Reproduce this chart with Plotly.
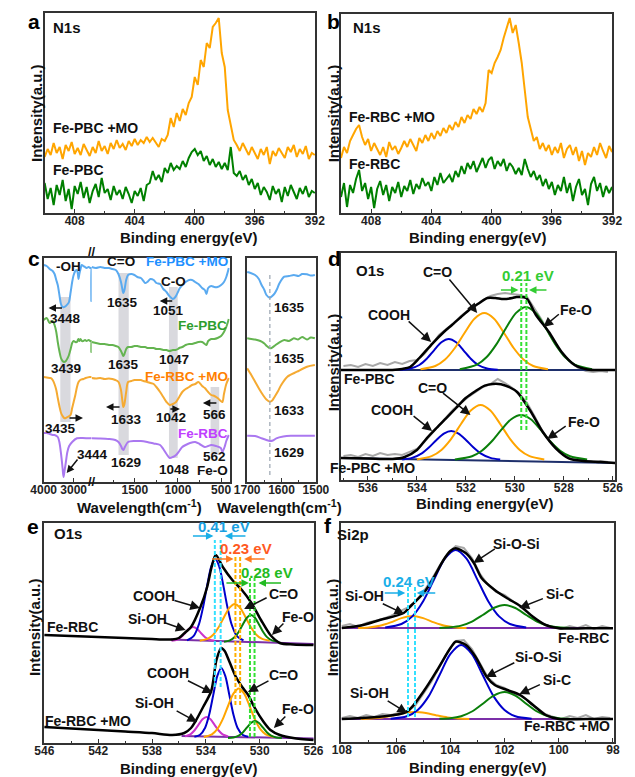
import numpy as np
import plotly.graph_objects as go

W, H = 635, 777
FONT = "Arial, Liberation Sans, Helvetica, sans-serif"

# ============================ DATA ============================
# (a)/(b) N1s XPS: binding-energy grid (eV) and intensities (a.u.)
n1s_energy = np.linspace(410.0, 392.0, 91)
n1s_fe_pbc_mo = [56, 64, 58, 70, 60, 66, 54, 68, 62, 71, 59, 65, 58, 69, 63, 57, 66, 60, 72, 62,
                 67, 59, 70, 64, 73, 65, 69, 63, 72, 67, 74, 68, 73, 70, 76, 71, 75, 70, 66, 74,
                 72, 78, 95, 86, 100, 92, 104, 98, 110, 116, 136, 128, 153, 146, 170, 165, 186, 190, 195, 160,
                 146, 103, 88, 73, 68, 62, 70, 64, 58, 66, 60, 54, 64, 58, 66, 49, 62, 57, 65, 60,
                 55, 66, 61, 68, 56, 64, 59, 67, 54, 60, 58]
n1s_fe_pbc = [30, 14, 25, 8, 28, 18, 33, 12, 24, 4, 27, 19, 31, 15, 26, 10, 22, 29, 16, 35,
              20, 24, 13, 27, 18, 23, 14, 26, 19, 10, 22, 17, 25, 12, 28, 30, 42, 33, 38, 31,
              45, 40, 50, 43, 47, 44, 52, 46, 55, 61, 64, 58, 62, 52, 57, 48, 54, 46, 51, 44,
              50, 43, 66, 40, 37, 42, 33, 38, 28, 34, 24, 30, 18, 26, 21, 13, 27, 19, 24, 11,
              26, 17, 28, 20, 14, 25, 19, 27, 16, 22, 20]
n1s_fe_rbc_mo = [55, 66, 60, 72, 78, 84, 88, 76, 68, 74, 62, 70, 64, 58, 66, 56, 71, 63, 67, 59,
                 65, 72, 66, 74, 68, 62, 75, 70, 78, 72, 80, 74, 82, 77, 85, 80, 88, 83, 91, 86,
                 96, 90, 98, 94, 104, 99, 106, 101, 110, 143, 140, 150, 156, 163, 175, 186, 195, 180, 188, 170,
                 150, 123, 96, 84, 72, 76, 64, 70, 62, 68, 58, 66, 60, 70, 55, 64, 68, 58, 66, 52,
                 62, 48, 60, 56, 66, 58, 70, 62, 55, 67, 61]
n1s_fe_rbc = [16, 30, 6, 28, 20, 34, 43, 22, 30, 14, 26, 5, 24, 32, 18, 28, 12, 26, 20, 31,
              16, 27, 22, 33, 19, 29, 24, 35, 27, 31, 22, 36, 28, 40, 30, 34, 38, 31, 42, 36,
              47, 39, 50, 44, 52, 41, 49, 55, 45, 53, 56, 44, 52, 47, 54, 42, 50, 46, 39, 45,
              38, 54, 44, 36, 42, 33, 38, 27, 34, 24, 31, 18, 28, 22, 36, 20, 30, 12, 26, 34,
              18, 24, 8, 29, 36, 22, 30, 16, 27, 20, 26]
n1s_ticks = [408, 404, 400, 396, 392]

# (c) FTIR, high-wavenumber segment (4000-2400 cm-1)
ftir_hi_w = [4000, 3900, 3800, 3700, 3637, 3580, 3531, 3470, 3424, 3370, 3317, 3260, 3200, 3157, 3100,
             3050, 3000, 2944, 2890, 2860, 2837, 2810, 2770, 2730, 2680, 2620, 2570, 2500, 2440, 2416,
             2410, 2404, 2400]
ftir_hi_pbc_mo = [217, 216, 213, 211, 208, 202, 197, 186, 178, 175, 175, 176, 178, 180, 190, 200, 207, 211,
                  212, 208, 203, 208, 213, 217, 216, 215, 214, 215, 214, 214, 181, 214, 214]
ftir_hi_pbc = [162, 164, 159, 161, 157, 150, 140, 130, 124, 121, 120, 121, 124, 127, 133, 139, 141, 140,
               140, 142, 143, 141, 143, 141, 141, 142, 141, 142, 141, 141, 130, 141, 141]
ftir_hi_w_rbc_mo = [4000, 3900, 3800, 3744, 3700, 3640, 3580, 3530, 3470, 3420, 3370, 3317, 3260, 3200,
                    3104, 3050, 3000, 2944, 2890, 2837, 2780, 2677, 2600, 2464, 2400]
ftir_hi_rbc_mo = [105, 104.5, 104, 103.7, 102, 98, 92, 84, 75, 69, 66, 64, 64, 65, 67, 74, 80, 87, 95,
                  100, 102, 103, 104, 105, 105]
ftir_hi_w_rbc = [4000, 3900, 3800, 3700, 3637, 3531, 3477, 3420, 3370, 3339, 3300, 3260, 3210, 3150,
                 3050, 2890, 2700, 2464, 2400]
ftir_hi_rbc = [49, 49, 48, 47, 47, 45, 40, 28, 14, 5, 12, 20, 30, 36, 40, 43.7, 44, 43.7, 44]

# (c) FTIR, low-wavenumber segment (2000-400 cm-1)
ftir_lo_w = [2000, 1950, 1900, 1850, 1800, 1760, 1720, 1690, 1660, 1640, 1633, 1620, 1600, 1578, 1540,
             1504, 1470, 1430, 1400, 1380, 1356, 1320, 1281, 1250, 1207, 1170, 1133, 1100, 1059, 1030,
             1000, 985, 950, 911, 870, 837, 800, 763, 720, 689, 670, 650, 615, 580, 541, 500, 467, 440, 411]
ftir_lo_pbc_mo = [215, 214, 215, 214, 214, 213, 212, 208, 200, 191, 189, 192, 202, 207, 208, 207, 205, 204,
                  201, 199, 200, 203, 202, 199, 198, 193, 190, 186, 183, 185, 190, 193, 197, 200, 202, 202,
                  200, 198, 194, 192, 188, 194, 196, 195, 195, 197, 200, 205, 214]
ftir_lo_pbc = [140, 139, 138, 138, 137, 137, 136, 135, 131, 127, 126, 128, 133, 135, 135, 136, 136, 135,
               135, 135, 134, 134, 134, 133, 133, 132, 132, 131, 132, 132, 133, 134, 135, 137, 138, 138,
               139, 140, 140, 138, 137, 141, 143, 143, 144, 146, 150, 155, 163]
ftir_lo_w_rbc_mo = [2000, 1950, 1900, 1850, 1800, 1760, 1726, 1689, 1660, 1645, 1633, 1620, 1600, 1578,
                    1540, 1504, 1470, 1430, 1400, 1356, 1320, 1281, 1250, 1207, 1170, 1133, 1096, 1059,
                    1022, 985, 950, 911, 870, 837, 800, 763, 720, 689, 650, 615, 578, 541, 504, 485, 467, 440, 411]
ftir_lo_rbc_mo = [104, 103.5, 104, 103, 103.5, 103, 102, 100, 92, 82, 75, 78, 90, 100, 101, 102, 102, 102,
                  101, 100, 99, 98, 95, 90, 85, 80, 77, 78, 80, 85, 90, 93, 95, 97, 98, 100, 96, 94, 90,
                  87, 86, 84, 81, 80, 88, 98, 104]
ftir_lo_w_rbc = [2000, 1900, 1800, 1726, 1689, 1660, 1645, 1633, 1615, 1578, 1500, 1430, 1356, 1281, 1207,
                 1170, 1133, 1096, 1059, 1022, 985, 950, 911, 860, 800, 750, 689, 650, 615, 560, 504, 485,
                 460, 440, 411]
ftir_lo_rbc = [43.7, 43.5, 43, 42, 40, 36, 33, 32, 35, 40, 41, 41, 40, 38.5, 37, 33, 28, 24, 25, 27, 31,
               35, 37, 39, 40, 38, 35, 36, 37, 36, 34, 30, 35, 41, 47]
# shaded bands: (left edge, right edge, bottom, top), segment
band_w0 = [3446, 1689, 1104, 622]
band_w1 = [3104, 1570, 1003, 522]
band_b = [60, 27, 24, 27]
band_t = [185, 209, 195, 95]
band_seg = ['hi', 'lo', 'lo', 'lo']

# (c) zoom 1700-1500 cm-1
zc_w_pbc_mo = [1700, 1690, 1677, 1666, 1658, 1650, 1644, 1634, 1627, 1620, 1613, 1606, 1592, 1578, 1564,
               1550, 1540, 1526, 1515, 1503]
zc_pbc_mo = [210, 209, 207, 203, 197, 192, 187, 184.3, 186, 188.7, 193, 198.7, 205.3, 206, 207, 206, 208,
             207.7, 206.5, 207]
zc_w_pbc = [1700, 1688, 1677, 1666, 1658, 1650, 1644, 1634, 1627, 1620, 1606, 1592, 1578, 1564, 1552, 1540,
            1526, 1515, 1503]
zc_pbc = [143.7, 143, 142.5, 141.5, 140.3, 138.5, 136.3, 133.7, 134.5, 136.3, 139.7, 142, 141, 143.7, 142.5,
          145, 142.5, 144.5, 143.7]
zc_w_rbc_mo = [1700, 1688, 1677, 1665, 1654, 1644, 1634, 1627, 1620, 1610, 1601, 1583, 1555, 1526, 1503]
zc_rbc_mo = [113.7, 107, 100.3, 93, 87, 82.5, 80.3, 81.5, 85.3, 91, 97, 105.3, 110.3, 115.3, 117]
zc_w_rbc = [1700, 1677, 1658, 1644, 1634, 1625, 1615, 1595, 1573, 1540, 1503]
zc_rbc = [46.3, 46, 43.7, 42, 41, 41.5, 43.7, 45.5, 46.3, 46.3, 46.3]
zc_mark = 1634

# (d) O1s Fe-PBC (upper) and Fe-PBC +MO (lower)
d_raw_E = np.linspace(537.0, 526.2, 37)
d_raw_up = [114, 115, 113, 116, 114, 117, 115, 118, 116, 119, 120, 126, 135, 145, 151, 157, 164, 170, 175,
            180, 184, 186, 187, 186, 185, 183, 172, 160, 146, 134, 124, 117, 112, 109, 108, 109, 108]
d_raw_lo = [24, 25, 23, 26, 24, 27, 25, 26, 25, 28, 31, 38, 46, 55, 63, 71, 77, 83, 88, 93, 96, 101, 97,
            92, 86, 77, 64, 50, 40, 31, 25, 21, 20, 19, 18, 19, 18]
d_env_up_E = [537.1, 536, 535, 534.6, 534.28, 533.9, 533.36, 532.9, 532.57, 532.2, 531.78, 531.45, 531.12,
              530.8, 530.46, 530.1, 529.93, 529.54, 529.14, 528.61, 528.09, 527.56, 527.03, 526.5, 525.9]
d_env_up = [110, 110, 110, 111, 113, 122, 136.7, 148, 155, 163, 171.7, 177, 182, 182, 181, 182, 183, 182,
            165, 148, 128, 115, 110.5, 110, 110]
d_env_lo_E = [537.1, 536, 535, 534.5, 534.0, 533.6, 533.2, 532.81, 532.4, 532.02, 531.6, 531.23, 530.9,
              530.57, 530.2, 529.91, 529.39, 528.86, 528.33, 527.8, 527.2, 526.5, 525.9]
d_env_lo = [22, 21.5, 21, 23, 30, 41.7, 52, 61.7, 72, 81.7, 89, 94.3, 96, 95.7, 92.5, 88, 70, 48, 31.7,
            21.7, 19, 18, 17]
d_cooh_up_E = [534.7, 534.3, 533.9, 533.6, 533.3, 533.0, 532.7, 532.4, 532.1, 531.8, 531.5, 531.1, 530.7]
d_cooh_up = [110.2, 111.2, 115, 121.2, 129.7, 137.7, 141, 137.7, 129.7, 121.2, 115, 111.2, 110.2]
d_co_up_E = [533.85, 533.25, 532.85, 532.45, 532.05, 531.65, 531.25, 530.85, 530.45, 530.05, 529.65, 529.25, 528.65]
d_co_up = [110.7, 114, 120.5, 132, 147.3, 161.3, 167, 161.3, 147.3, 132, 120.5, 114, 110.7]
d_feo_up_E = [532.25, 531.55, 531.15, 530.75, 530.35, 529.95, 529.55, 529.15, 528.75, 528.35, 527.95, 527.55, 526.85]
d_feo_up = [110.7, 115.4, 123, 135.9, 152.5, 167.1, 173, 167.1, 152.5, 135.9, 123, 115.4, 110.7]
d_cooh_lo_E = [534.6, 534.2, 533.8, 533.5, 533.2, 532.9, 532.6, 532.3, 532.0, 531.7, 531.4, 531.0, 530.6]
d_cooh_lo = [20.5, 22.1, 26.7, 32.7, 40.1, 46.4, 49, 46.4, 40.1, 32.7, 26.7, 22.1, 20.5]
d_co_lo_E = [534.0, 533.4, 533.0, 532.6, 532.2, 531.8, 531.4, 531.0, 530.6, 530.2, 529.8, 529.4, 528.8]
d_co_lo = [20.6, 23.9, 30.1, 41.2, 56, 69.5, 75, 69.5, 56, 41.2, 30.1, 23.9, 20.6]
d_feo_lo_E = [532.45, 531.75, 531.35, 530.95, 530.55, 530.15, 529.75, 529.35, 528.95, 528.55, 528.15, 527.75, 527.05]
d_feo_lo = [20.5, 23.8, 29.3, 38.5, 50.3, 60.8, 65, 60.8, 50.3, 38.5, 29.3, 23.8, 20.5]
d_base_E = [537.1, 525.9]
d_base_up = [110, 110]
d_base_lo = [22, 17]
d_shift_E = [529.74, 529.53]

# (e) O1s Fe-RBC (upper) and Fe-RBC +MO (lower)
e_env_up_E = [546, 544, 542, 540, 538, 537, 536.5, 536, 535.5, 535.1, 534.4, 533.9, 533.57, 533.26, 532.74,
              532.03, 531.32, 530.61, 529.9, 529.2, 528.5, 527.5, 526]
e_env_up = [108, 107, 106, 105, 104, 103.5, 103.5, 105, 111, 116, 136, 156, 176, 188, 176, 163, 153, 140,
            123, 108, 100, 98.5, 98]
e_env_lo_E = [546, 544, 542, 540, 538, 536.5, 535.6, 535.1, 534.8, 534.2, 533.6, 533.21, 532.86, 532.6,
              532.27, 531.8, 531.3, 530.85, 530.4, 529.7, 529.2, 528.5, 527.5, 526]
e_env_lo = [16, 14.5, 13, 11.5, 10, 8, 10, 15, 21, 36, 52, 83, 95, 92, 82, 67, 56, 48, 36, 21, 13, 8, 5, 3]
e_sioh_up_E = [536.55, 536.15, 535.85, 535.55, 535.25, 534.95, 534.65, 534.35, 534.05, 533.75, 533.35]
e_sioh_up = [102.2, 103.3, 105.7, 109.7, 114.1, 116, 114.1, 109.7, 105.7, 103.3, 102.2]
e_cooh_up_E = [535.4, 534.9, 534.5, 534.2, 533.9, 533.6, 533.3, 533.0, 532.7, 532.4, 532.1, 531.7, 531.2]
e_cooh_up = [102.7, 107.2, 119.3, 136.2, 157.6, 176.4, 184, 176.4, 157.6, 136.2, 119.3, 107.2, 102.7]
e_co_up_E = [534.45, 533.85, 533.45, 533.05, 532.65, 532.25, 531.85, 531.45, 531.05, 530.65, 530.25, 529.85, 529.25]
e_co_up = [102.3, 104.3, 108.3, 115.7, 125.8, 135.1, 139, 135.1, 125.8, 115.7, 108.3, 104.3, 102.3]
e_feo_up_E = [532.65, 532.25, 531.85, 531.55, 531.25, 530.95, 530.65, 530.35, 530.05, 529.75, 529.45, 529.05, 528.65]
e_feo_up = [101.2, 102.3, 105.9, 111.3, 118.6, 125.3, 128, 125.3, 118.6, 111.3, 105.9, 102.3, 101.2]
e_sioh_lo_E = [535.55, 535.15, 534.85, 534.55, 534.25, 533.95, 533.65, 533.35, 533.05, 532.75, 532.35]
e_sioh_lo = [6.6, 8.7, 12.5, 18.1, 23.7, 26, 23.7, 18.1, 12.5, 8.7, 6.6]
e_cooh_lo_E = [534.85, 534.45, 534.05, 533.75, 533.45, 533.15, 532.85, 532.55, 532.25, 531.95, 531.65, 531.25, 530.85]
e_cooh_lo = [6.3, 8.0, 15.3, 28.4, 47.9, 66.9, 75, 66.9, 47.9, 28.4, 15.3, 8.0, 6.3]
e_co_lo_E = [534.15, 533.55, 533.15, 532.75, 532.35, 531.95, 531.55, 531.15, 530.75, 530.35, 529.95, 529.55, 528.95]
e_co_lo = [6.0, 8.6, 13.8, 23.6, 37, 49.4, 54.5, 49.4, 37, 23.6, 13.8, 8.6, 6.0]
e_feo_lo_E = [532.35, 531.95, 531.55, 531.25, 530.95, 530.65, 530.35, 530.05, 529.75, 529.45, 529.15, 528.75, 528.35]
e_feo_lo = [5.1, 5.5, 7.3, 10.5, 15.3, 20, 22, 20, 15.3, 10.5, 7.3, 5.5, 5.1]
e_base_up_E = [536.6, 526]
e_base_up = [103.5, 99]
e_base_lo_E = [535.8, 526]
e_base_lo = [7, 4.5]
e_shift_cooh_E = [533.33, 532.90]
e_shift_co_E = [531.80, 531.45]
e_shift_feo_E = [530.72, 530.38]

# (f) Si2p Fe-RBC (upper) and Fe-RBC +MO (lower)
f_raw_E = np.linspace(108.0, 98.1, 34)
f_raw_up = [116, 118, 115, 119, 121, 123, 126, 130, 134, 140, 150, 162, 176, 188, 196, 194, 184, 168, 157,
            150, 147, 141, 135, 128, 122, 117, 115, 113, 116, 114, 117, 113, 116, 114]
f_raw_lo = [24, 26, 24, 27, 25, 28, 27, 29, 31, 36, 48, 60, 75, 90, 101, 102, 93, 78, 64, 57, 54, 49, 46,
            41, 34, 28, 25, 23, 26, 24, 27, 23, 25, 24]
f_env_up_E = [108, 107.3, 106.6, 105.72, 105.42, 104.95, 104.6, 104.25, 104.0, 103.8, 103.42, 103.13, 102.84,
              102.36, 101.9, 101.42, 100.95, 100.48, 100.0, 99, 98]
f_env_up = [114, 116.5, 122, 129, 137, 150, 165, 182, 191, 193.7, 188.7, 179, 163.7, 152, 143.7, 136, 125.3,
            117, 113.7, 113.7, 113.7]
f_env_lo_E = [108, 107.3, 106.6, 105.6, 104.95, 104.48, 104.0, 103.8, 103.42, 103.07, 102.66, 102.36, 101.9,
              101.42, 100.95, 100.48, 100.0, 99, 98]
f_env_lo = [23, 24, 25.3, 30.3, 52, 72, 93.7, 100.3, 97, 85.3, 65.3, 57, 52, 47, 37, 27, 23, 23, 23]
f_siosi_up_E = [106.4, 105.8, 105.4, 105.0, 104.6, 104.2, 103.8, 103.4, 103.0, 102.6, 102.2, 101.8, 101.2]
f_siosi_up = [114.5, 118, 125.6, 140.8, 162.4, 183.3, 192, 183.3, 162.4, 140.8, 125.6, 118, 114.5]
f_sioh_up_E = [107.4, 107.0, 106.6, 106.2, 105.8, 105.4, 105.0, 104.6, 104.2, 103.8, 103.4]
f_sioh_up = [114.1, 114.6, 116.2, 119.6, 123.9, 126, 123.9, 119.6, 116.2, 114.6, 114.1]
f_sic_up_E = [104.4, 104.0, 103.6, 103.2, 102.8, 102.4, 102.0, 101.6, 101.2, 100.8, 100.4, 100.0, 99.6]
f_sic_up = [114.1, 114.7, 116.4, 120.4, 127, 134, 137, 134, 127, 120.4, 116.4, 114.7, 114.1]
f_siosi_lo_E = [106.2, 105.6, 105.2, 104.8, 104.4, 104.0, 103.6, 103.2, 102.8, 102.4, 102.0, 101.6, 101.0]
f_siosi_lo = [23.3, 25.7, 32, 45.6, 66.7, 87.9, 97, 87.9, 66.7, 45.6, 32, 25.7, 23.3]
f_sioh_lo_E = [107.3, 106.9, 106.5, 106.1, 105.7, 105.3, 104.9, 104.5, 104.1, 103.7, 103.3]
f_sioh_lo = [23.1, 23.5, 24.6, 26.6, 28.9, 30, 28.9, 26.6, 24.6, 23.5, 23.1]
f_sic_lo_E = [104.4, 104.0, 103.6, 103.2, 102.8, 102.4, 102.0, 101.6, 101.2, 100.8, 100.4, 100.0, 99.6]
f_sic_lo = [23.2, 23.8, 25.8, 30.5, 38.3, 46.4, 50, 46.4, 38.3, 30.5, 25.8, 23.8, 23.2]
f_base_E = [108, 98]
f_base_up = [114, 114]
f_base_lo = [23, 23]
f_shift_E = [105.56, 105.30]

# ============================ STYLE ============================
LC = '#333333'
ORANGE = '#FFA500'
GREEN = '#008000'
BLUE_C = '#5AAAF0'
GREEN_C = '#64B450'
ORANGE_C = '#F5AA32'
PURPLE_C = '#AA78F0'
BLUE = '#0000CC'
DGREEN = '#0A7F0A'
GRAY = '#A8A8A8'
MAGENTA = '#CC33CC'
PURPLE = '#7B2FA8'
NAVY = '#1E2F6B'
TF = dict(family=FONT, size=12, color='#222', weight='bold')

fig = go.Figure()

# panel boxes in pixels: (x0, x1, y0, y1)
BOX = {
    1: (33, 315, 13, 213),
    2: (342, 625, 14, 213),
    3: (32, 82, 258, 482),
    4: (82, 226, 258, 482),
    5: (244, 316, 258, 482),
    6: (342, 628, 253, 480),
    7: (32, 314, 523, 743),
    8: (342, 627, 523, 742),
}
XR = {1: [410, 391.98], 2: [410, 391.98], 3: [4000, 2400], 4: [2000, 400], 5: [1700.5, 1499.5],
      6: [537.1, 525.9], 7: [546.05, 525.95], 8: [108.03, 97.95]}
XT = {1: n1s_ticks, 2: n1s_ticks, 3: [4000, 3000], 4: [1500, 1000, 500], 5: [1700, 1600, 1500],
      6: [536, 534, 532, 530, 528, 526], 7: [546, 542, 538, 534, 530, 526], 8: [108, 106, 104, 102, 100, 98]}
XM = {1: 2, 2: 2, 3: None, 4: 250, 5: 50, 6: 1, 7: 2, 8: 1}

layout_axes = {}
for i, (x0, x1, y0, y1) in BOX.items():
    xn = 'xaxis' if i == 1 else f'xaxis{i}'
    yn = 'yaxis' if i == 1 else f'yaxis{i}'
    xa = dict(domain=[x0 / W, x1 / W], range=XR[i], anchor='y' if i == 1 else f'y{i}',
              tickmode='array', tickvals=XT[i], ticktext=[str(t) for t in XT[i]],
              showline=True, linecolor=LC, linewidth=1.5, mirror=True,
              ticks='inside', ticklen=4.5, tickwidth=1.3, tickcolor=LC, ticklabelstandoff=-4,
              showgrid=False, zeroline=False, tickfont=TF, fixedrange=True)
    if XM[i]:
        xa['minor'] = dict(ticks='inside', ticklen=2.5, tickwidth=1.2, tickcolor=LC,
                           dtick=XM[i], tick0=0, showgrid=False)
    ya = dict(domain=[1 - y1 / H, 1 - y0 / H], range=[0, y1 - y0], anchor='x' if i == 1 else f'x{i}',
              showline=True, linecolor=LC, linewidth=1.5, mirror=True, ticks='',
              showticklabels=False, showgrid=False, zeroline=False, fixedrange=True)
    if i == 3:
        ya['mirror'] = False
    if i == 4:
        ya['mirror'] = False
        ya['side'] = 'right'
    layout_axes[xn] = xa
    layout_axes[yn] = ya


def ax(i):
    return ('x', 'y') if i == 1 else (f'x{i}', f'y{i}')


def line(x, y, i, color, width=2.0, shape='linear'):
    xa, ya = ax(i)
    fig.add_trace(go.Scatter(x=list(x), y=y, xaxis=xa, yaxis=ya, mode='lines',
                             line=dict(color=color, width=width, shape=shape, smoothing=0.8),
                             hoverinfo='skip', showlegend=False))


# (a) / (b)
line(n1s_energy, n1s_fe_pbc_mo, 1, ORANGE, 2)
line(n1s_energy, n1s_fe_pbc, 1, GREEN, 2)
line(n1s_energy, n1s_fe_rbc_mo, 2, ORANGE, 2)
line(n1s_energy, n1s_fe_rbc, 2, GREEN, 2)

# (c) FTIR
line(ftir_hi_w, ftir_hi_pbc_mo, 3, BLUE_C, 2, 'spline')
line(ftir_hi_w, ftir_hi_pbc, 3, GREEN_C, 2, 'spline')
line(ftir_hi_w_rbc_mo, ftir_hi_rbc_mo, 3, ORANGE_C, 2, 'spline')
line(ftir_hi_w_rbc, ftir_hi_rbc, 3, PURPLE_C, 2, 'spline')
line(ftir_lo_w, ftir_lo_pbc_mo, 4, BLUE_C, 2, 'spline')
line(ftir_lo_w, ftir_lo_pbc, 4, GREEN_C, 2, 'spline')
line(ftir_lo_w_rbc_mo, ftir_lo_rbc_mo, 4, ORANGE_C, 2, 'spline')
line(ftir_lo_w_rbc, ftir_lo_rbc, 4, PURPLE_C, 2, 'spline')
line(zc_w_pbc_mo, zc_pbc_mo, 5, BLUE_C, 2, 'spline')
line(zc_w_pbc, zc_pbc, 5, GREEN_C, 2, 'spline')
line(zc_w_rbc_mo, zc_rbc_mo, 5, ORANGE_C, 2, 'spline')
line(zc_w_rbc, zc_rbc, 5, PURPLE_C, 2, 'spline')

# (d)
line(d_raw_E, d_raw_up, 6, GRAY, 2)
line(d_raw_E, d_raw_lo, 6, GRAY, 2)
line(d_base_E, d_base_up, 6, NAVY, 2)
line(d_base_E, d_base_lo, 6, NAVY, 2)
for E_, I_, c in [(d_cooh_up_E, d_cooh_up, BLUE), (d_co_up_E, d_co_up, ORANGE), (d_feo_up_E, d_feo_up, DGREEN),
                  (d_cooh_lo_E, d_cooh_lo, BLUE), (d_co_lo_E, d_co_lo, ORANGE), (d_feo_lo_E, d_feo_lo, DGREEN)]:
    line(E_, I_, 6, c, 2, 'spline')
line(d_env_up_E, d_env_up, 6, 'black', 2.5, 'spline')
line(d_env_lo_E, d_env_lo, 6, 'black', 2.5, 'spline')

# (e)
line(e_base_up_E, e_base_up, 7, PURPLE, 2)
line(e_base_lo_E, e_base_lo, 7, PURPLE, 2)
for E_, I_, c in [(e_sioh_up_E, e_sioh_up, MAGENTA), (e_cooh_up_E, e_cooh_up, BLUE), (e_co_up_E, e_co_up, ORANGE),
                  (e_feo_up_E, e_feo_up, DGREEN), (e_sioh_lo_E, e_sioh_lo, MAGENTA), (e_cooh_lo_E, e_cooh_lo, BLUE),
                  (e_co_lo_E, e_co_lo, ORANGE), (e_feo_lo_E, e_feo_lo, DGREEN)]:
    line(E_, I_, 7, c, 2, 'spline')
line(e_env_up_E, e_env_up, 7, 'black', 2.5, 'spline')
line(e_env_lo_E, e_env_lo, 7, 'black', 2.5, 'spline')

# (f)
line(f_raw_E, f_raw_up, 8, GRAY, 2)
line(f_raw_E, f_raw_lo, 8, GRAY, 2)
line(f_base_E, f_base_up, 8, PURPLE, 2)
line(f_base_E, f_base_lo, 8, PURPLE, 2)
for E_, I_, c in [(f_sioh_up_E, f_sioh_up, ORANGE), (f_siosi_up_E, f_siosi_up, BLUE), (f_sic_up_E, f_sic_up, DGREEN),
                  (f_sioh_lo_E, f_sioh_lo, ORANGE), (f_siosi_lo_E, f_siosi_lo, BLUE), (f_sic_lo_E, f_sic_lo, DGREEN)]:
    line(E_, I_, 8, c, 2, 'spline')
line(f_env_up_E, f_env_up, 8, 'black', 2.5, 'spline')
line(f_env_lo_E, f_env_lo, 8, 'black', 2.5, 'spline')

# ============================ SHAPES ============================
shapes = []
for w0, w1, b, t, seg in zip(band_w0, band_w1, band_b, band_t, band_seg):
    i = 3 if seg == 'hi' else 4
    shapes.append(dict(type='rect', xref=f'x{i}', yref=f'y{i}', x0=w0, x1=w1, y0=b, y1=t,
                       fillcolor='rgba(170,170,182,0.45)', line=dict(width=0), layer='below'))
shapes.append(dict(type='line', xref='x5', yref='y5', x0=zc_mark, x1=zc_mark, y0=7, y1=207,
                   line=dict(color='#9aa4b0', width=1.2, dash='4px,3px')))


def vpair(Es, i, y0, y1, color):
    for E_ in Es:
        shapes.append(dict(type='line', xref=f'x{i}', yref=f'y{i}', x0=E_, x1=E_, y0=y0, y1=y1,
                           line=dict(color=color, width=2, dash='4px,2px')))


vpair(d_shift_E, 6, 50, 197, '#33E033')
vpair(e_shift_cooh_E, 7, 56, 203, '#33E0FF')
vpair(e_shift_co_E, 7, 38, 188, '#FFB000')
vpair(e_shift_feo_E, 7, 6, 165, '#33E033')
vpair(f_shift_E, 8, 25, 155, '#33E0FF')

# ============================ TEXT ============================
anns = []


def T(s, px, py, size=14, color='#111', xa='center', angle=0):
    anns.append(dict(text=s, x=px / W, y=1 - py / H, xref='paper', yref='paper', showarrow=False,
                     xanchor=xa, yanchor='middle', textangle=angle,
                     font=dict(family=FONT, size=size, color=color, weight='bold')))


def A(x0, y0, x1, y1, color='#111', width=1.5, size=1.2):
    anns.append(dict(text='', x=x1 / W, y=1 - y1 / H, xref='paper', yref='paper',
                     ax=x0 - x1, ay=y0 - y1, axref='pixel', ayref='pixel', showarrow=True,
                     arrowhead=2, arrowsize=size, arrowwidth=width, arrowcolor=color,
                     standoff=0, startstandoff=0))


# panel letters
for s, px, py in [('a', 22, 22), ('b', 334, 22), ('c', 22, 258), ('d', 335, 258), ('e', 21, 526), ('f', 328, 525)]:
    T(s, px, py, size=21, color='#000')
# axis titles
for px, py in [(24, 113), (334, 113), (334, 362), (22, 627), (333, 627)]:
    T('Intensity(a.u.)', px, py, size=15, angle=-90)
for px, py in [(183, 238), (485, 238), (492, 503), (183, 768), (485, 767)]:
    T('Binding energy(eV)', px, py, size=15)
T('Wavelength(cm<sup>-1</sup>)', 132, 506, size=15)
T('Wavelength(cm<sup>-1</sup>)', 278, 506, size=15)

# (a)/(b)
T('N1s', 56, 27, size=15)
T('Fe-PBC +MO', 40, 128, xa='left')
T('Fe-PBC', 40, 170, xa='left')
T('N1s', 369, 27, size=15)
T('Fe-RBC +MO', 348, 117, xa='left')
T('Fe-RBC', 348, 164, xa='left')

# (c)
for s, px, py, c in [('-OH', 58, 266, '#111'), ('C=O', 113, 262, '#111'), ('Fe-PBC +MO', 181, 262, '#1E90FF'),
                     ('C-O', 167, 282, '#111'), ('1635', 114, 302, '#111'), ('1051', 162, 310, '#111'),
                     ('3448', 55, 318, '#111'), ('Fe-PBC', 198, 325, '#2E9E2E'), ('3439', 55, 369, '#111'),
                     ('1635', 115, 364, '#111'), ('1047', 168, 360, '#111'), ('Fe-RBC +MO', 181, 376, '#FF7F00'),
                     ('3435', 50, 428, '#111'), ('1633', 118, 419, '#111'), ('1042', 165, 418, '#111'),
                     ('566', 210, 414, '#111'), ('Fe-RBC', 198, 433, '#BF40FF'), ('3444', 83, 454, '#111'),
                     ('1629', 118, 462, '#111'), ('1048', 168, 469, '#111'), ('562', 210, 456, '#111'),
                     ('Fe-O', 208, 470, '#111'),
                     ('1635', 288, 307, '#111'), ('1635', 288, 358, '#111'), ('1633', 288, 410, '#111'),
                     ('1629', 288, 452, '#111')]:
    T(s, px, py, size=13.5, color=c)
T('//', 82, 251, size=13)
T('//', 82, 481, size=13)
for x0, y0, x1, y1 in [(167, 301, 153, 301), (52, 308, 37, 308), (58, 418, 73, 418), (112, 407, 97, 407),
                       (163, 409, 174, 409), (213, 403, 198, 403), (68, 458, 56, 473)]:
    A(x0, y0, x1, y1, width=1.5, size=1.0)

# (d)
T('O1s', 372, 270, size=15)
T('C=O', 443, 272)
T('COOH', 392, 315)
T('Fe-O', 587, 310)
T('Fe-PBC', 372, 379)
T('C=O', 437, 388)
T('COOH', 395, 410)
T('Fe-O', 595, 422)
T('Fe-PBC +MO', 375, 468)
T('0.21 eV', 537, 276, size=15, color='#33CC33')
for x0, y0, x1, y1 in [(455, 278, 484, 313), (412, 320, 436, 342), (570, 313, 553, 327),
                       (448, 392, 477, 415), (417, 415, 437, 431), (577, 425, 557, 439)]:
    A(x0, y0, x1, y1, size=1.3, width=1.5)
A(508, 290, 527, 290, color='#33CC33', size=1.0)
A(557, 290, 538, 290, color='#33CC33', size=1.0)

# (e)
T('O1s', 57, 533, size=15)
T('COOH', 147, 596)
T('Si-OH', 140, 619)
T('Fe-RBC', 62, 627)
T('C=O', 282, 594)
T('Fe-O', 297, 617)
T('COOH', 162, 673)
T('Si-OH', 148, 703)
T('C=O', 282, 675)
T('Fe-O', 297, 709)
T('Fe-RBC +MO', 78, 721)
T('0.41 eV', 220, 526, size=15, color='#1A9FE0')
T('0.23 eV', 243, 548, size=15, color='#FF5A1F')
T('0.28 eV', 265, 572, size=15, color='#22BB22')
for x0, y0, x1, y1 in [(168, 600, 195, 608), (157, 622, 180, 630), (265, 597, 241, 609), (283, 622, 270, 635),
                       (182, 680, 208, 693), (170, 710, 192, 722), (267, 680, 245, 692), (285, 715, 272, 728)]:
    A(x0, y0, x1, y1, size=1.3, width=1.5)
A(187, 536, 209, 536, color='#1AAFE8', size=1.0)
A(243, 536, 221, 536, color='#1AAFE8', size=1.0)
A(207, 559, 230, 559, color='#FF7A1F', size=1.0)
A(263, 559, 241, 559, color='#FF7A1F', size=1.0)
A(222, 583, 246, 583, color='#22BB22', size=1.0)
A(280, 583, 256, 583, color='#22BB22', size=1.0)

# (f)
T('Si2p', 354, 534, size=15)
T('Si-O-Si', 525, 544)
T('Si-OH', 367, 596)
T('Si-C', 570, 594)
T('Fe-RBC', 595, 638)
T('Si-O-Si', 548, 657)
T('Si-C', 567, 680)
T('Si-OH', 372, 693)
T('Fe-RBC +MO', 578, 726)
T('0.24 eV', 413, 581, size=15, color='#1AAFE8')
for x0, y0, x1, y1 in [(503, 548, 480, 563), (385, 603, 408, 614), (553, 598, 528, 608),
                       (523, 662, 493, 677), (550, 684, 528, 694), (390, 700, 411, 713)]:
    A(x0, y0, x1, y1, size=1.3, width=1.5)
A(387, 593, 409, 593, color='#1AAFE8', size=1.0)
A(441, 593, 421, 593, color='#1AAFE8', size=1.0)

fig.update_layout(width=W, height=H, margin=dict(l=0, r=0, t=0, b=0), paper_bgcolor='white',
                  plot_bgcolor='white', showlegend=False, shapes=shapes, annotations=anns,
                  font=dict(family=FONT), **layout_axes)

fig.write_html("out.html", config={'displayModeBar': False},
               post_script="document.body.style.margin='0';document.body.style.padding='0';")
